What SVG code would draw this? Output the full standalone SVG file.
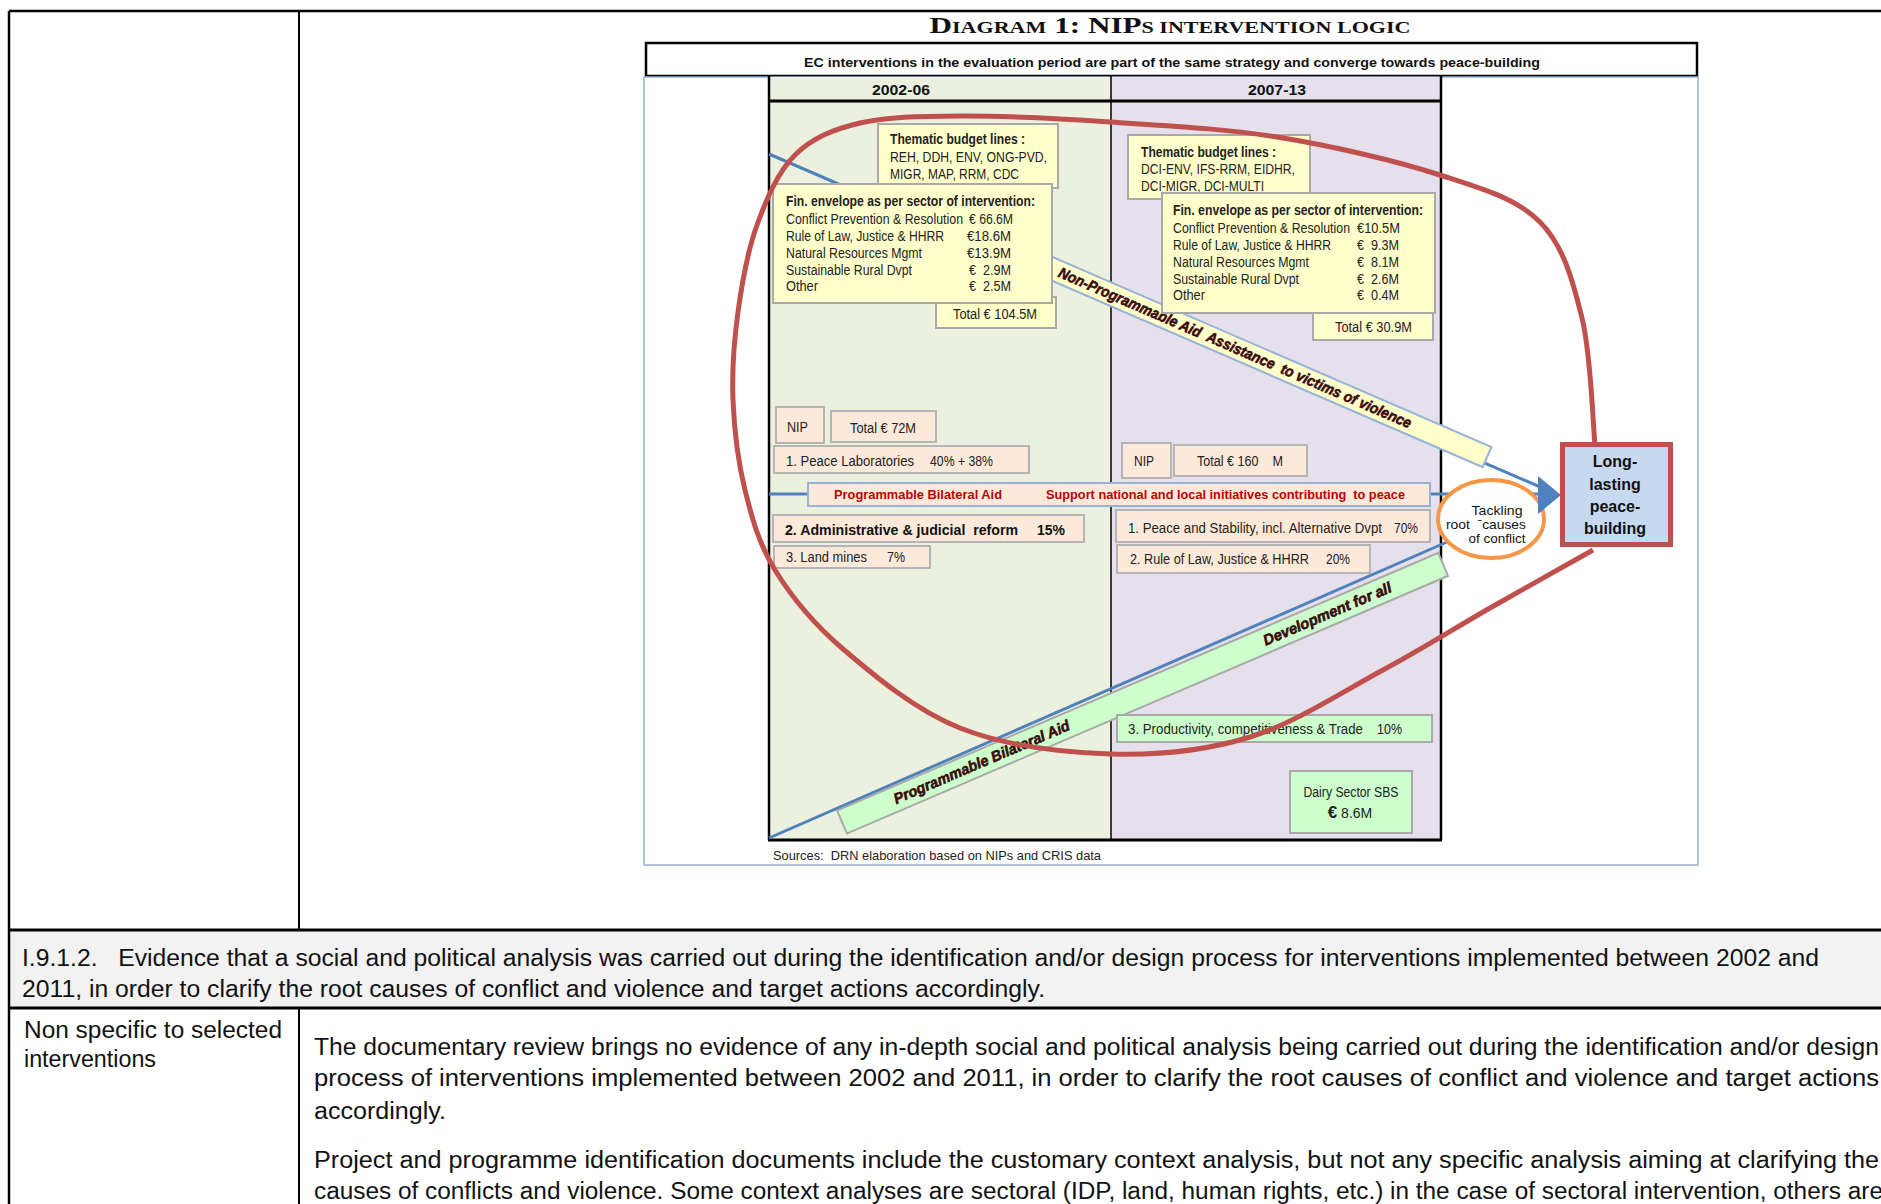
<svg xmlns="http://www.w3.org/2000/svg" width="1881" height="1204" viewBox="0 0 1881 1204">
<style>
.doc{font-family:'Liberation Sans',Arial,sans-serif;font-size:23px;fill:#111}
.n{font-family:'Liberation Sans Narrow','Liberation Sans',Arial,sans-serif;font-size:14px;fill:#222}
.nb{font-family:'Liberation Sans Narrow','Liberation Sans',Arial,sans-serif;font-size:14px;font-weight:bold;fill:#222}
.cb{font-family:'Liberation Sans',Arial,sans-serif;font-weight:bold;fill:#111}
.yb{fill:#ffffcc;stroke:#a9a9a9;stroke-width:2}
.pb{fill:#fde9d9;stroke:#b5b5b5;stroke-width:2}
.gb{fill:#ccffcc;stroke:#a9a9a9;stroke-width:2}
.blue{stroke:#4f81bd;stroke-width:3;fill:none}
.wa{font-family:'Liberation Sans',Arial,sans-serif;font-size:15px;font-weight:bold;font-style:italic;fill:#5a0404;stroke:#000;stroke-width:0.5}
.tl{stroke:#000;fill:none}
.el{font-family:'Liberation Sans Narrow','Liberation Sans',Arial,sans-serif;font-size:13px;fill:#111}
</style>

<g id="table">
  <rect x="9" y="930" width="1872" height="78" fill="#f2f2f2"/>
  <line class="tl" x1="9" y1="11" x2="1881" y2="11" stroke-width="2.5"/>
  <line class="tl" x1="9" y1="11" x2="9" y2="1204" stroke-width="2.5"/>
  <line class="tl" x1="299" y1="11" x2="299" y2="930" stroke-width="2"/>
  <line class="tl" x1="9" y1="930" x2="1881" y2="930" stroke-width="3"/>
  <line class="tl" x1="9" y1="1008" x2="1881" y2="1008" stroke-width="3"/>
  <line class="tl" x1="299" y1="1008" x2="299" y2="1204" stroke-width="2"/>
  <text class="doc" x="22" y="966" textLength="1797" lengthAdjust="spacingAndGlyphs">I.9.1.2.&#160;&#160; Evidence that a social and political analysis was carried out during the identification and/or design process for interventions implemented between 2002 and</text>
  <text class="doc" x="22" y="997" textLength="1023" lengthAdjust="spacingAndGlyphs">2011, in order to clarify the root causes of conflict and violence and target actions accordingly.</text>
  <text class="doc" x="24" y="1038" textLength="258" lengthAdjust="spacingAndGlyphs">Non specific to selected</text>
  <text class="doc" x="24" y="1067" textLength="132" lengthAdjust="spacingAndGlyphs">interventions</text>
  <text class="doc" x="314" y="1055" textLength="1565" lengthAdjust="spacingAndGlyphs">The documentary review brings no evidence of any in-depth social and political analysis being carried out during the identification and/or design</text>
  <text class="doc" x="314" y="1086" textLength="1565" lengthAdjust="spacingAndGlyphs">process of interventions implemented between 2002 and 2011, in order to clarify the root causes of conflict and violence and target actions</text>
  <text class="doc" x="314" y="1119" textLength="132" lengthAdjust="spacingAndGlyphs">accordingly.</text>
  <text class="doc" x="314" y="1168" textLength="1565" lengthAdjust="spacingAndGlyphs">Project and programme identification documents include the customary context analysis, but not any specific analysis aiming at clarifying the</text>
  <text class="doc" x="314" y="1199" textLength="1569" lengthAdjust="spacingAndGlyphs">causes of conflicts and violence. Some context analyses are sectoral (IDP, land, human rights, etc.) in the case of sectoral intervention, others are</text>
</g>

<g id="frame">
  <text x="1170" y="33" text-anchor="middle" textLength="481" lengthAdjust="spacingAndGlyphs" font-family="'Liberation Serif','Times New Roman',serif" font-weight="bold" fill="#111"><tspan font-size="24">D</tspan><tspan font-size="17">IAGRAM</tspan><tspan font-size="24"> 1: NIP</tspan><tspan font-size="17">S INTERVENTION LOGIC</tspan></text>
  <rect x="646" y="43" width="1051" height="33" fill="#fff" stroke="#000" stroke-width="2.5"/>
  <text class="cb" x="1172" y="67" font-size="13.5" text-anchor="middle" textLength="736" lengthAdjust="spacingAndGlyphs">EC interventions in the evaluation period are part of the same strategy and converge towards peace-building</text>
  <rect x="644" y="77" width="1054" height="788" fill="#fff" stroke="#95b3d7" stroke-width="1.5"/>
  <rect x="769" y="77" width="342" height="763" fill="#ebf1de"/>
  <rect x="1111" y="77" width="330" height="763" fill="#e5e0ec"/>
  <line class="tl" x1="769" y1="101" x2="1441" y2="101" stroke-width="3"/>
  <line class="tl" x1="769" y1="76" x2="769" y2="840" stroke-width="2.5"/>
  <line class="tl" x1="1441" y1="76" x2="1441" y2="840" stroke-width="2.5"/>
  <line class="tl" x1="1111" y1="76" x2="1111" y2="840" stroke-width="1.5"/>
  <line class="tl" x1="768" y1="840" x2="1442" y2="840" stroke-width="3"/>
  <text class="cb" x="901" y="95" font-size="15" text-anchor="middle" textLength="58" lengthAdjust="spacingAndGlyphs">2002-06</text>
  <text class="cb" x="1277" y="95" font-size="15" text-anchor="middle" textLength="58" lengthAdjust="spacingAndGlyphs">2007-13</text>
  <text x="773" y="860" font-family="'Liberation Sans',Arial,sans-serif" font-size="13" fill="#222" textLength="328" lengthAdjust="spacingAndGlyphs">Sources:&#160; DRN elaboration based on NIPs and CRIS data</text>
</g>

<g id="connectors">
  <line class="blue" x1="769" y1="154" x2="1545" y2="489"/>
  <line class="blue" x1="769" y1="494" x2="1545" y2="494"/>
  <line class="blue" x1="769" y1="838" x2="1447" y2="542"/>
</g>

<g id="band-npa" transform="translate(1487,457) rotate(23.4)">
  <rect x="-540" y="-11" width="540" height="22" fill="#ffffcc" stroke="#95b3d7" stroke-width="2"/>
  <text class="wa" x="-466" y="5" textLength="383" lengthAdjust="spacingAndGlyphs">Non-Programmable Aid&#160; Assistance&#160; to victims of violence</text>
</g>

<g id="band-pba" transform="translate(842,822) rotate(-23.2)">
  <rect x="0" y="-12.5" width="654" height="25" fill="#ccffcc" stroke="#a9a9a9" stroke-width="2"/>
  <text class="wa" x="57" y="5" textLength="190" lengthAdjust="spacingAndGlyphs">Programmable Bilateral Aid</text>
  <text class="wa" x="459" y="5" textLength="138" lengthAdjust="spacingAndGlyphs">Development for all</text>
</g>

<g id="thematic-0206">
  <rect class="yb" x="878" y="124" width="180" height="64"/>
  <text class="nb" x="890" y="144" textLength="135" lengthAdjust="spacingAndGlyphs">Thematic budget lines :</text>
  <text class="n" x="890" y="162" textLength="157" lengthAdjust="spacingAndGlyphs">REH, DDH, ENV, ONG-PVD,</text>
  <text class="n" x="890" y="179" textLength="129" lengthAdjust="spacingAndGlyphs">MIGR, MAP, RRM, CDC</text>
</g>
<g id="total-0206">
  <rect class="yb" x="936" y="297" width="120" height="31"/>
  <text class="n" x="953" y="319" textLength="84" lengthAdjust="spacingAndGlyphs">Total € 104.5M</text>
</g>
<g id="fin-0206">
  <rect class="yb" x="773" y="184" width="279" height="119"/>
  <text class="nb" x="786" y="206" textLength="249" lengthAdjust="spacingAndGlyphs">Fin. envelope as per sector of intervention:</text>
  <text class="n" x="786" y="224" textLength="177" lengthAdjust="spacingAndGlyphs">Conflict Prevention &amp; Resolution</text>
  <text class="n" x="969" y="224" textLength="44" lengthAdjust="spacingAndGlyphs">€ 66.6M</text>
  <text class="n" x="786" y="241" textLength="158" lengthAdjust="spacingAndGlyphs">Rule of Law, Justice &amp; HHRR</text>
  <text class="n" x="967" y="241" textLength="44" lengthAdjust="spacingAndGlyphs">€18.6M</text>
  <text class="n" x="786" y="258" textLength="136" lengthAdjust="spacingAndGlyphs">Natural Resources Mgmt</text>
  <text class="n" x="967" y="258" textLength="44" lengthAdjust="spacingAndGlyphs">€13.9M</text>
  <text class="n" x="786" y="275" textLength="126" lengthAdjust="spacingAndGlyphs">Sustainable Rural Dvpt</text>
  <text class="n" x="969" y="275" textLength="42" lengthAdjust="spacingAndGlyphs">€&#160; 2.9M</text>
  <text class="n" x="786" y="291" textLength="32" lengthAdjust="spacingAndGlyphs">Other</text>
  <text class="n" x="969" y="291" textLength="42" lengthAdjust="spacingAndGlyphs">€&#160; 2.5M</text>
</g>

<g id="thematic-0713">
  <rect class="yb" x="1128" y="135" width="182" height="64"/>
  <text class="nb" x="1141" y="157" textLength="135" lengthAdjust="spacingAndGlyphs">Thematic budget lines :</text>
  <text class="n" x="1141" y="174" textLength="154" lengthAdjust="spacingAndGlyphs">DCI-ENV, IFS-RRM, EIDHR,</text>
  <text class="n" x="1141" y="191" textLength="123" lengthAdjust="spacingAndGlyphs">DCI-MIGR, DCI-MULTI</text>
</g>
<g id="total-0713">
  <rect class="yb" x="1313" y="312" width="120" height="28"/>
  <text class="n" x="1335" y="332" textLength="77" lengthAdjust="spacingAndGlyphs">Total € 30.9M</text>
</g>
<g id="fin-0713">
  <rect class="yb" x="1162" y="193" width="273" height="120"/>
  <text class="nb" x="1173" y="215" textLength="250" lengthAdjust="spacingAndGlyphs">Fin. envelope as per sector of intervention:</text>
  <text class="n" x="1173" y="233" textLength="177" lengthAdjust="spacingAndGlyphs">Conflict Prevention &amp; Resolution</text>
  <text class="n" x="1357" y="233" textLength="43" lengthAdjust="spacingAndGlyphs">€10.5M</text>
  <text class="n" x="1173" y="250" textLength="158" lengthAdjust="spacingAndGlyphs">Rule of Law, Justice &amp; HHRR</text>
  <text class="n" x="1357" y="250" textLength="42" lengthAdjust="spacingAndGlyphs">€&#160; 9.3M</text>
  <text class="n" x="1173" y="267" textLength="136" lengthAdjust="spacingAndGlyphs">Natural Resources Mgmt</text>
  <text class="n" x="1357" y="267" textLength="42" lengthAdjust="spacingAndGlyphs">€&#160; 8.1M</text>
  <text class="n" x="1173" y="284" textLength="126" lengthAdjust="spacingAndGlyphs">Sustainable Rural Dvpt</text>
  <text class="n" x="1357" y="284" textLength="42" lengthAdjust="spacingAndGlyphs">€&#160; 2.6M</text>
  <text class="n" x="1173" y="300" textLength="32" lengthAdjust="spacingAndGlyphs">Other</text>
  <text class="n" x="1357" y="300" textLength="42" lengthAdjust="spacingAndGlyphs">€&#160; 0.4M</text>
</g>

<g id="nip-0206">
  <rect class="pb" x="776" y="407" width="48" height="36"/>
  <text class="n" x="787" y="432" textLength="21" lengthAdjust="spacingAndGlyphs">NIP</text>
  <rect class="pb" x="831" y="411" width="105" height="31"/>
  <text class="n" x="850" y="433" textLength="66" lengthAdjust="spacingAndGlyphs">Total € 72M</text>
  <rect class="pb" x="774" y="446" width="255" height="27"/>
  <text class="n" x="786" y="466" textLength="128" lengthAdjust="spacingAndGlyphs">1. Peace Laboratories</text>
  <text class="n" x="930" y="466" textLength="63" lengthAdjust="spacingAndGlyphs">40% + 38%</text>
  <rect class="pb" x="773" y="515" width="311" height="27"/>
  <text class="cb" x="785" y="535" font-size="14" textLength="233" lengthAdjust="spacingAndGlyphs">2. Administrative &amp; judicial&#160; reform</text>
  <text class="cb" x="1037" y="535" font-size="14" textLength="28" lengthAdjust="spacingAndGlyphs">15%</text>
  <rect class="pb" x="774" y="546" width="156" height="22"/>
  <text class="n" x="786" y="562" textLength="81" lengthAdjust="spacingAndGlyphs">3. Land mines</text>
  <text class="n" x="887" y="562" textLength="18" lengthAdjust="spacingAndGlyphs">7%</text>
</g>

<g id="pba-box">
  <rect x="808" y="483" width="622" height="23" fill="#fde9d9" stroke="#95b3d7" stroke-width="2"/>
  <text class="cb" x="834" y="499" font-size="13" style="fill:#c00000" textLength="168" lengthAdjust="spacingAndGlyphs">Programmable Bilateral Aid</text>
  <text class="cb" x="1046" y="499" font-size="13" style="fill:#c00000" textLength="359" lengthAdjust="spacingAndGlyphs">Support national and local initiatives contributing&#160; to peace</text>
</g>

<g id="nip-0713">
  <rect class="pb" x="1122" y="443" width="49" height="35"/>
  <text class="n" x="1134" y="466" textLength="20" lengthAdjust="spacingAndGlyphs">NIP</text>
  <rect class="pb" x="1174" y="445" width="133" height="31"/>
  <text class="n" x="1197" y="466" textLength="86" lengthAdjust="spacingAndGlyphs">Total € 160&#160;&#160;&#160; M</text>
  <rect class="pb" x="1116" y="510" width="314" height="32"/>
  <text class="n" x="1128" y="533" textLength="254" lengthAdjust="spacingAndGlyphs">1. Peace and Stability, incl. Alternative Dvpt</text>
  <text class="n" x="1394" y="533" textLength="24" lengthAdjust="spacingAndGlyphs">70%</text>
  <rect class="pb" x="1117" y="545" width="253" height="28"/>
  <text class="n" x="1130" y="564" textLength="179" lengthAdjust="spacingAndGlyphs">2. Rule of Law, Justice &amp; HHRR</text>
  <text class="n" x="1326" y="564" textLength="24" lengthAdjust="spacingAndGlyphs">20%</text>
</g>

<g id="productivity">
  <rect class="gb" x="1117" y="715" width="315" height="27"/>
  <text class="n" x="1128" y="734" textLength="235" lengthAdjust="spacingAndGlyphs">3. Productivity, competitiveness &amp; Trade</text>
  <text class="n" x="1377" y="734" textLength="25" lengthAdjust="spacingAndGlyphs">10%</text>
</g>
<g id="dairy">
  <rect class="gb" x="1290" y="771" width="122" height="62"/>
  <text class="n" x="1351" y="797" text-anchor="middle" textLength="95" lengthAdjust="spacingAndGlyphs">Dairy Sector SBS</text>
  <text class="n" x="1350" y="818" text-anchor="middle"><tspan font-size="17" font-weight="bold">€</tspan> 8.6M</text>
</g>

<g id="loop">
  <path d="M1595,445 C1592.8,423.8 1591.2,355.2 1582,318 C1572.8,280.8 1563.7,245.8 1540,222 C1516.3,198.2 1483.8,189.2 1440,175 C1396.2,160.8 1332,145.8 1277,137 C1222,128.2 1162.8,125.5 1110,122 C1057.2,118.5 1001.7,115.8 960,116 C918.3,116.2 887.5,116.5 860,123 C832.5,129.5 812.2,138 795,155 C777.8,172 766.5,198.8 757,225 C747.5,251.2 742,282.8 738,312 C734,341.2 731.8,370.3 733,400 C734.2,429.7 738,461.7 745,490 C752,518.3 758.7,543.5 775,570 C791.3,596.5 812.2,622.7 843,649 C873.8,675.3 915.5,710.5 960,728 C1004.5,745.5 1061.7,752.5 1110,754 C1158.3,755.5 1204.5,751 1250,737 C1295.5,723 1343,691.5 1383,670 C1423,648.5 1455,628 1490,608 C1525,588 1575.8,559.7 1593,550" fill="none" stroke="#c0504d" stroke-width="5"/>
</g>

<g id="root-causes">
  <ellipse cx="1491" cy="519" rx="53" ry="39" fill="#fff" stroke="#f79646" stroke-width="4"/>
  <text class="el" x="1497" y="515" text-anchor="middle" textLength="51" lengthAdjust="spacingAndGlyphs">Tackling</text>
  <text class="el" x="1486" y="529" text-anchor="middle" textLength="80" lengthAdjust="spacingAndGlyphs">root&#160; ˉcauses</text>
  <text class="el" x="1497" y="543" text-anchor="middle" textLength="57" lengthAdjust="spacingAndGlyphs">of conflict</text>
</g>

<g id="arrowhead">
  <polygon points="1561,495 1538,476 1538,514" fill="#4f81bd"/>
</g>

<g id="peace-building">
  <rect x="1562.5" y="444.5" width="108" height="100" fill="#c6d9f1" stroke="#c0504d" stroke-width="5"/>
  <text class="cb" x="1615" y="467" font-size="16" text-anchor="middle">Long-</text>
  <text class="cb" x="1615" y="490" font-size="16" text-anchor="middle">lasting</text>
  <text class="cb" x="1615" y="512" font-size="16" text-anchor="middle">peace-</text>
  <text class="cb" x="1615" y="534" font-size="16" text-anchor="middle">building</text>
</g>
</svg>
